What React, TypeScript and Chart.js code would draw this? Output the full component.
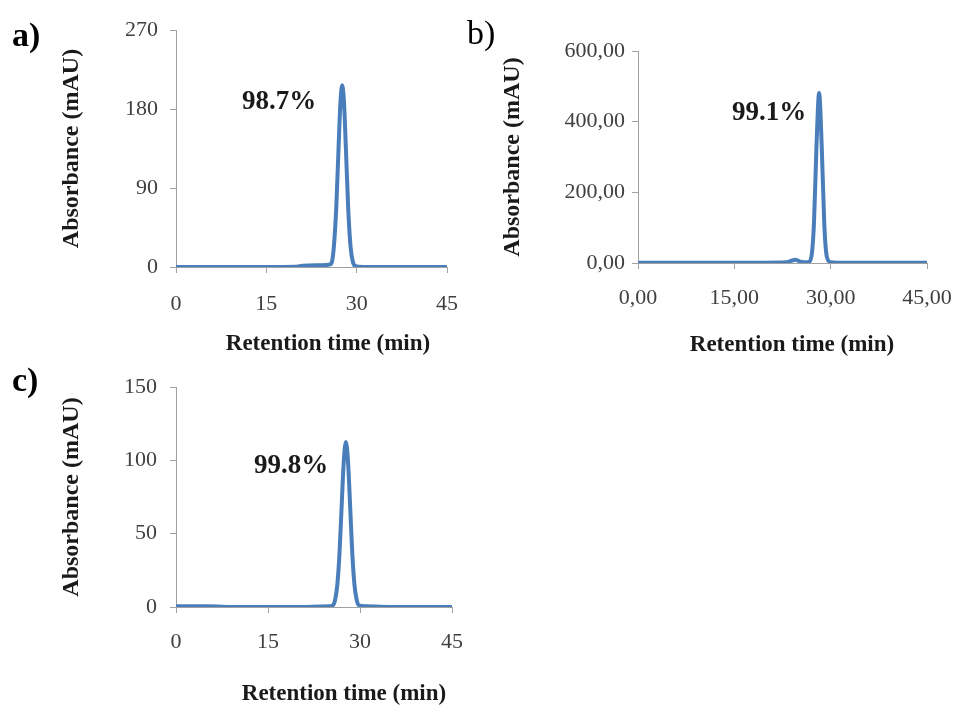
import React, { useEffect, useRef } from 'react';
import { Chart, registerables } from 'chart.js';

Chart.register(...registerables);

// ---------- DATA ----------
const timesA = [0, 5, 10, 15, 20, 21, 24, 25.6, 25.9, 26.2, 26.6, 27.0, 27.3, 27.6, 27.9, 28.2, 28.6, 29.0, 29.4, 29.8, 31, 35, 40, 45];
const absA = [0, 0, 0, 0, 0.3, 1.5, 2, 3, 6, 22, 66, 137, 187, 207, 187, 137, 66, 22, 5, 1, 0, 0, 0, 0];

const timesB = [0, 5, 10, 15, 20, 23, 24, 24.5, 25, 25.5, 26.5, 27.0, 27.4, 27.8, 28.2, 28.6, 29.0, 29.4, 30, 31, 35, 40, 45];
const absB = [1, 1, 1, 1, 1, 2, 7, 9, 6, 3, 2, 18, 113, 335, 481, 335, 113, 18, 2, 1, 1, 1, 1];

const timesC = [0, 5, 10, 15, 20, 25, 25.6, 25.95, 26.3, 26.65, 27.0, 27.35, 27.7, 28.05, 28.4, 28.75, 29.1, 29.45, 29.8, 31, 35, 40, 45];
const absC = [0.5, 0.5, 0, 0, 0, 0.5, 1.2, 5, 15, 36, 68, 99, 112.5, 99, 68, 36, 15, 5, 1.2, 0.5, 0, 0, 0];

const xTicks = [0, 15, 30, 45];
const xLabelsAC = ['0', '15', '30', '45'];
const xLabelsB = ['0,00', '15,00', '30,00', '45,00'];

const yTicksA = [0, 90, 180, 270];
const yLabelsA = ['0', '90', '180', '270'];
const yTicksB = [0, 200, 400, 600];
const yLabelsB = ['0,00', '200,00', '400,00', '600,00'];
const yTicksC = [0, 50, 100, 150];
const yLabelsC = ['0', '50', '100', '150'];

const panelLetters = ['a)', 'b)', 'c)'];
const purities = ['98.7%', '99.1%', '99.8%'];
const xTitle = 'Retention time (min)';
const yTitle = 'Absorbance (mAU)';

// ---------- STYLE ----------
const SERIF = "'Liberation Serif', 'Times New Roman', serif";
const LINE = '#4a7ebb';
const AXIS = '#a0a0a0';
const TICK_TEXT = '#404040';
const TEXT = '#1a1a1a';

const textPlugin = {
  id: 'panelText',
  afterDraw(chart: any, _args: any, opts: any) {
    const ctx = chart.ctx;
    (opts.items || []).forEach((it: any) => {
      ctx.save();
      ctx.font = it.font;
      ctx.fillStyle = it.color;
      ctx.textAlign = it.align || 'center';
      ctx.textBaseline = 'middle';
      ctx.fillText(it.text, it.x, it.y);
      ctx.restore();
    });
  },
};

type PanelProps = {
  box: { left: number; top: number; w: number; h: number };
  times: number[];
  values: number[];
  yTicks: number[];
  yLabels: string[];
  xLabels: string[];
  yWidth: number;
  xHeight: number;
  padTop: number;
  padRight: number;
  yTitlePad: number;
  yTickPad: number;
  xTickPad: number;
  items: any[];
};

function Panel(p: PanelProps) {
  const ref = useRef<HTMLCanvasElement | null>(null);
  useEffect(() => {
    if (!ref.current) return;
    const yMin = p.yTicks[0];
    const yMax = p.yTicks[p.yTicks.length - 1];
    const chart = new Chart(ref.current, {
      type: 'line',
      data: {
        datasets: [
          {
            data: p.times.map((t, i) => ({ x: t, y: p.values[i] })),
            borderColor: LINE,
            borderWidth: 4,
            pointRadius: 0,
            fill: false,
            cubicInterpolationMode: 'monotone',
            borderJoinStyle: 'round',
            borderCapStyle: 'round',
          },
        ],
      },
      options: {
        animation: false,
        responsive: false,
        maintainAspectRatio: false,
        layout: { padding: { left: 0, top: p.padTop, right: p.padRight, bottom: 0 } },
        plugins: {
          legend: { display: false },
          tooltip: { enabled: false },
          panelText: { items: p.items },
        } as any,
        scales: {
          x: {
            type: 'linear',
            min: xTicks[0],
            max: xTicks[xTicks.length - 1],
            afterBuildTicks: (s: any) => {
              s.ticks = xTicks.map((v) => ({ value: v }));
            },
            afterFit: (s: any) => {
              s.height = p.xHeight;
              s.paddingLeft = 0;
              s.paddingRight = 0;
            },
            ticks: {
              callback: (_v: any, i: number) => p.xLabels[i],
              font: { family: SERIF, size: 22 },
              color: TICK_TEXT,
              padding: p.xTickPad,
              maxRotation: 0,
              autoSkip: false,
            },
            grid: { display: true, drawOnChartArea: false, drawTicks: true, tickLength: 6, color: AXIS },
            border: { display: true, color: AXIS, width: 1 },
          },
          y: {
            type: 'linear',
            min: yMin,
            max: yMax,
            afterBuildTicks: (s: any) => {
              s.ticks = p.yTicks.map((v) => ({ value: v }));
            },
            afterFit: (s: any) => {
              s.width = p.yWidth;
              s.paddingTop = 0;
              s.paddingBottom = 0;
            },
            ticks: {
              callback: (_v: any, i: number) => p.yLabels[i],
              font: { family: SERIF, size: 22 },
              color: TICK_TEXT,
              padding: p.yTickPad,
              autoSkip: false,
            },
            title: {
              display: true,
              text: yTitle,
              font: { family: SERIF, size: 24, weight: 'bold' },
              color: TEXT,
              padding: { top: p.yTitlePad, bottom: 0 },
            },
            grid: { display: true, drawOnChartArea: false, drawTicks: true, tickLength: 6, color: AXIS },
            border: { display: true, color: AXIS, width: 1 },
          },
        },
      } as any,
      plugins: [textPlugin as any],
    });
    return () => chart.destroy();
  }, []);
  return (
    <canvas
      ref={ref}
      width={p.box.w}
      height={p.box.h}
      style={{ position: 'absolute', left: p.box.left, top: p.box.top, width: p.box.w, height: p.box.h }}
    />
  );
}

const boldF = (s: number) => `bold ${s}px ${SERIF}`;
const normF = (s: number) => `${s}px ${SERIF}`;

export default function App() {
  return (
    <div style={{ position: 'fixed', left: 0, top: 0, width: 955, height: 705, background: '#fff', overflow: 'hidden' }}>
      <Panel
        box={{ left: 0, top: 0, w: 460, h: 360 }}
        times={timesA}
        values={absA}
        yTicks={yTicksA}
        yLabels={yLabelsA}
        xLabels={xLabelsAC}
        yWidth={176}
        xHeight={93}
        padTop={30}
        padRight={13}
        yTitlePad={57}
        yTickPad={12}
        xTickPad={18}
        items={[
          { text: panelLetters[0], x: 12, y: 37, font: boldF(34), color: '#000', align: 'left' },
          { text: purities[0], x: 279, y: 102, font: boldF(27), color: TEXT },
          { text: xTitle, x: 328, y: 344, font: boldF(23), color: TEXT },
        ]}
      />
      <Panel
        box={{ left: 460, top: 0, w: 495, h: 360 }}
        times={timesB}
        values={absB}
        yTicks={yTicksB}
        yLabels={yLabelsB}
        xLabels={xLabelsB}
        yWidth={178}
        xHeight={97}
        padTop={51}
        padRight={28}
        yTitlePad={38}
        yTickPad={7}
        xTickPad={16}
        items={[
          { text: panelLetters[1], x: 7, y: 35, font: normF(34), color: '#000', align: 'left' },
          { text: purities[1], x: 309, y: 113, font: boldF(27), color: TEXT },
          { text: xTitle, x: 332, y: 345, font: boldF(23), color: TEXT },
        ]}
      />
      <Panel
        box={{ left: 0, top: 360, w: 480, h: 345 }}
        times={timesC}
        values={absC}
        yTicks={yTicksC}
        yLabels={yLabelsC}
        xLabels={xLabelsAC}
        yWidth={176}
        xHeight={98}
        padTop={27}
        padRight={28}
        yTitlePad={57}
        yTickPad={13}
        xTickPad={16}
        items={[
          { text: panelLetters[2], x: 12, y: 22, font: boldF(34), color: '#000', align: 'left' },
          { text: purities[2], x: 291, y: 106, font: boldF(27), color: TEXT },
          { text: xTitle, x: 344, y: 334, font: boldF(23), color: TEXT },
        ]}
      />
    </div>
  );
}
